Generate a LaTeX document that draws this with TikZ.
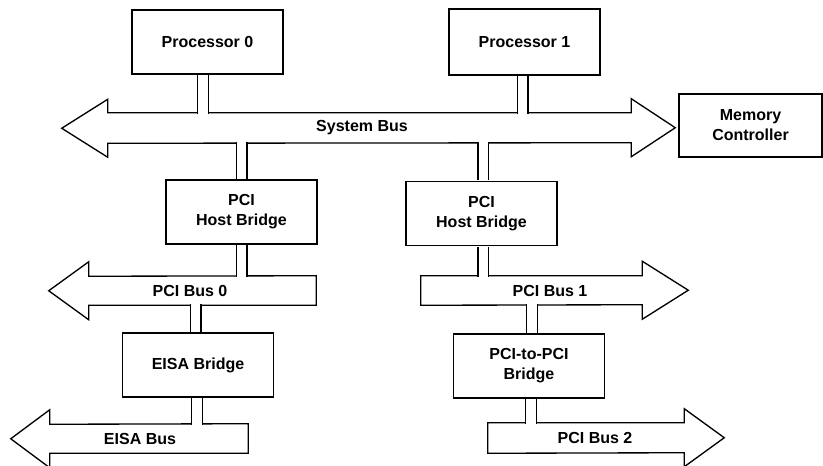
\documentclass[tikz,border=0pt]{standalone}
\usepackage{fontspec}
\setmainfont{Liberation Sans}
\usetikzlibrary{fit}

\begin{document}
\begin{tikzpicture}[
    x=0.75pt, y=-0.75pt,
    every node/.style={font=\bfseries\fontsize{12}{15}\selectfont},
    unit/.style={rectangle, draw, fill=white, line width=1pt, align=center, minimum width=113.25pt, minimum height=48pt, inner sep=2pt},
    shaft/.style={rectangle, inner sep=0pt},
    bus/.style={draw, fill=white, line width=1pt, line join=miter},
    link/.style={line width=1pt, double=white, double distance=7pt}
]
\useasboundingbox (0,0) rectangle (823,466);

% Bus shafts
\node[shaft, fit={(108,113) (631,143)}] (sysbus) {};
\node[shaft, fit={(89,276) (316,305)}] (pcibus0) {};
\node[shaft, fit={(421,276) (642,305)}] (pcibus1) {};
\node[shaft, fit={(50,424) (248,453)}] (eisabus) {};
\node[shaft, fit={(488,423) (684,453)}] (pcibus2) {};

% Bus outlines
\draw[bus] (sysbus.north west) -- (sysbus.north east) -- ++(0,-14) -- ++(44,29) -- ++(-44,29) -- ++(0,-14)
    -- (sysbus.south west) -- ++(0,14) -- ++(-46,-29) -- ++(46,-29) -- cycle;
\draw[bus] (pcibus0.north east) -- (pcibus0.south east) -- (pcibus0.south west) -- ++(0,14.5) -- ++(-40,-29) -- ++(40,-29) -- ++(0,14.5) -- cycle;
\draw[bus] (pcibus1.south west) -- (pcibus1.north west) -- (pcibus1.north east) -- ++(0,-14.5) -- ++(46,29) -- ++(-46,29) -- ++(0,-14.5) -- cycle;
\draw[bus] (eisabus.north east) -- (eisabus.south east) -- (eisabus.south west) -- ++(0,14.5) -- ++(-39,-29) -- ++(39,-29) -- ++(0,14.5) -- cycle;
\draw[bus] (pcibus2.south west) -- (pcibus2.north west) -- (pcibus2.north east) -- ++(0,-14) -- ++(40,29) -- ++(-40,29) -- ++(0,-14) -- cycle;

% Bus labels
\node (sysbuslabel) at (362,128) {System Bus};
\node (pcibus0label) at (190,290.5) {PCI Bus 0};
\node (pcibus1label) at (550,290.5) {PCI Bus 1};
\node (eisabuslabel) at (140,438.5) {EISA Bus};
\node (pcibus2label) at (595,438) {PCI Bus 2};

% Units
\node[unit] (proc0) at (207.5,42) {Processor 0};
\node[unit, minimum height=49.5pt] (proc1) at (524.5,42) {Processor 1};
\node[unit, minimum width=107.25pt, minimum height=47.25pt] (memctl) at (750.5,125.5) {Memory\\Controller};
\node[unit] (hostbr0) at (241.5,212) {PCI\\Host Bridge};
\node[unit] (hostbr1) at (481.5,213.5) {PCI\\Host Bridge};
\node[unit] (eisabr) at (198,365) {EISA Bridge};
\node[unit] (pcipcibr) at (529,366) {PCI-to-PCI\\Bridge};

% Links
\draw[link] ([xshift=-3.5pt, yshift=-0.5pt]proc0.south) -- ([xshift=-3.5pt, yshift=-0.6pt]proc0.south |- sysbus.north);
\draw[link] ([xshift=-1.3pt, yshift=-0.5pt]proc1.south) -- ([xshift=-1.3pt, yshift=-0.6pt]proc1.south |- sysbus.north);
\draw[link] ([yshift=0.6pt]hostbr0.north |- sysbus.south) -- ([yshift=0.5pt]hostbr0.north);
\draw[link] ([xshift=1.3pt, yshift=0.6pt]hostbr1.north |- sysbus.south) -- ([xshift=1.3pt, yshift=0.5pt]hostbr1.north);
\draw[link] ([yshift=-0.5pt]hostbr0.south) -- ([yshift=-0.6pt]hostbr0.south |- pcibus0.north);
\draw[link] ([xshift=1.3pt, yshift=-0.5pt]hostbr1.south) -- ([xshift=1.3pt, yshift=-0.6pt]hostbr1.south |- pcibus1.north);
\draw[link] ([xshift=-1.7pt, yshift=0.6pt]eisabr.north |- pcibus0.south) -- ([xshift=-1.7pt, yshift=0.5pt]eisabr.north);
\draw[link] ([xshift=2.2pt, yshift=0.6pt]pcipcibr.north |- pcibus1.south) -- ([xshift=2.2pt, yshift=0.5pt]pcipcibr.north);
\draw[link] ([xshift=-0.75pt, yshift=-0.5pt]eisabr.south) -- ([xshift=-0.75pt, yshift=-0.6pt]eisabr.south |- eisabus.north);
\draw[link] ([xshift=1.6pt, yshift=-0.5pt]pcipcibr.south) -- ([xshift=1.6pt, yshift=-0.6pt]pcipcibr.south |- pcibus2.north);

\end{tikzpicture}
\end{document}
